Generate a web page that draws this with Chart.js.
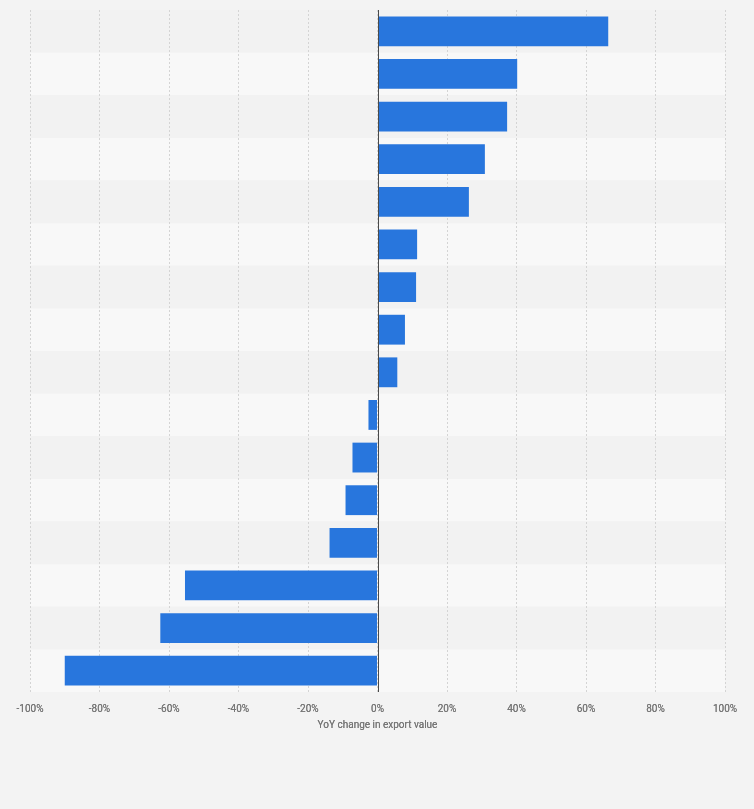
<!DOCTYPE html>
<html>
<head>
<meta charset="utf-8">
<script src="https://cdn.jsdelivr.net/npm/chart.js@4/dist/chart.umd.min.js"></script>
<style>
  html, body { margin: 0; padding: 0; background: #f3f3f3; }
  #wrap { width: 754px; height: 809px; position: relative; }
</style>
</head>
<body>
<div id="wrap"><canvas id="grafico"></canvas></div>
<script>
// categorias sem rótulo visível no original
const categorias = ["1", "2", "3", "4", "5", "6", "7", "8", "9", "10", "11", "12", "13", "14", "15", "16"];
const variacao = [66.4, 40.2, 37.3, 30.9, 26.3, 11.4, 11.1, 7.9, 5.7, -2.6, -7.2, -9.2, -13.8, -55.4, -62.5, -90.0];
const ticksX = [-100, -80, -60, -40, -20, 0, 20, 40, 60, 80, 100];
const tituloEixo = "YoY change in export value";

// faixas alternadas atrás das barras + linha do zero por cima
const faixas = {
  id: "faixas",
  beforeDatasetsDraw(chart) {
    const { ctx, chartArea, scales } = chart;
    const passo = (chartArea.bottom - chartArea.top) / categorias.length;
    ctx.save();
    categorias.forEach((c, i) => {
      ctx.fillStyle = i % 2 === 0 ? "#f2f2f2" : "#f8f8f8";
      ctx.fillRect(chartArea.left, chartArea.top + i * passo, chartArea.right - chartArea.left, passo);
    });
    ctx.restore();
    // redesenha a grade por cima das faixas
    scales.x.draw(chartArea);
  },
  afterDatasetsDraw(chart) {
    const { ctx, chartArea, scales } = chart;
    const x0 = Math.round(scales.x.getPixelForValue(0)) + 0.5;
    ctx.save();
    ctx.strokeStyle = "#4a4a4a";
    ctx.lineWidth = 1;
    ctx.beginPath();
    ctx.moveTo(x0, chartArea.top);
    ctx.lineTo(x0, chartArea.bottom);
    ctx.stroke();
    ctx.restore();
  }
};

new Chart(document.getElementById("grafico"), {
  type: "bar",
  data: {
    labels: categorias,
    datasets: [{
      data: variacao,
      backgroundColor: "#2876dd",
      borderWidth: 0,
      barPercentage: 0.7,
      categoryPercentage: 1
    }]
  },
  options: {
    indexAxis: "y",
    responsive: true,
    maintainAspectRatio: false,
    animation: false,
    layout: { padding: { left: 30, right: 29, top: 10, bottom: 74 } },
    plugins: {
      legend: { display: false },
      tooltip: { enabled: false }
    },
    scales: {
      x: {
        min: -100,
        max: 100,
        afterBuildTicks: axis => { axis.ticks = ticksX.map(v => ({ value: v })); },
        grid: { color: "#d4d4d4", drawTicks: false, lineWidth: 1 },
        border: { display: false, dash: [2, 2] },
        ticks: {
          padding: 11,
          color: "#777",
          font: { family: "Roboto", size: 10 },
          callback: v => v + "%"
        },
        title: {
          display: true,
          text: tituloEixo,
          color: "#777",
          font: { family: "Roboto", size: 10 },
          padding: { top: -7, bottom: 4 }
        }
      },
      y: {
        display: false,
        grid: { display: false }
      }
    }
  },
  plugins: [faixas]
});
</script>
</body>
</html>
